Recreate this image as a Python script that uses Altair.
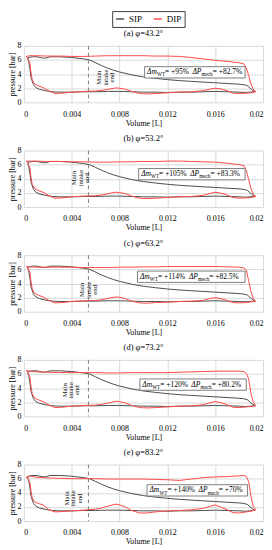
import altair as alt
import pandas as pd

FONT = "Liberation Serif"
GRAY = "#4d4d4d"
RED = "#ff4a4a"

PANELS = ["(a)", "(b)", "(c)", "(d)", "(e)"]
PHI = ["43.2", "53.2", "63.2", "73.2", "83.2"]
DM_WT = ["+95%", "+105%", "+114%", "+120%", "+140%"]
DP_MECH = ["+82.7%", "+83.3%", "+82.5%", "+80.2%", "+70%"]

X_TICKS = [0, 0.004, 0.008, 0.012, 0.016, 0.02]
Y_TICKS = [0, 2, 4, 6, 8]
INTAKE_END_V = 0.0054

# SIP loop (same in every panel)
SIP_V = [0.0003, 0.0007, 0.0011, 0.0015, 0.0018, 0.0022, 0.003, 0.004, 0.005, 0.0055,
         0.006, 0.0065, 0.007, 0.0075, 0.008, 0.009, 0.010, 0.011, 0.012, 0.013,
         0.014, 0.015, 0.016, 0.017, 0.018, 0.0184, 0.0187, 0.0189, 0.0191, 0.0193,
         0.019, 0.0185, 0.018, 0.017, 0.016, 0.015, 0.014, 0.013, 0.012, 0.011,
         0.010, 0.009, 0.008, 0.007, 0.006, 0.005, 0.004, 0.003, 0.0024, 0.0018,
         0.0013, 0.001, 0.0008, 0.0006, 0.0005, 0.0004, 0.0003]
SIP_P = [6.3, 6.45, 6.45, 6.3, 6.25, 6.45, 6.45, 6.35, 6.15, 6.0,
         5.6, 5.2, 4.85, 4.55, 4.3, 3.9, 3.6, 3.4, 3.22, 3.08,
         2.97, 2.87, 2.77, 2.67, 2.57, 2.5, 2.35, 2.05, 1.75, 1.55,
         1.45, 1.4, 1.45, 1.5, 1.55, 1.5, 1.45, 1.45, 1.4, 1.45,
         1.45, 1.5, 1.55, 1.55, 1.5, 1.5, 1.45, 1.45, 1.5, 1.65,
         1.85, 2.1, 2.5, 3.5, 4.8, 5.8, 6.3]

# DIP loops: upper branch volumes, lower branch volumes (shared grids)
DIP_TOP_V = [0.0002, 0.0005, 0.001, 0.002, 0.003, 0.004, 0.005, 0.006, 0.007, 0.008,
             0.009, 0.010, 0.011, 0.012, 0.013, 0.014, 0.015, 0.016, 0.017, 0.018,
             0.0184, 0.0186, 0.0188, 0.019, 0.0192, 0.0194]
DIP_BOT_V = [0.019, 0.0186, 0.018, 0.0175, 0.017, 0.0165, 0.016, 0.0155, 0.015, 0.014,
             0.013, 0.012, 0.011, 0.0103, 0.0097, 0.009, 0.0085, 0.008, 0.0077, 0.0072,
             0.0065, 0.006, 0.005, 0.004, 0.0032, 0.0026, 0.0021, 0.0016, 0.0012, 0.0009,
             0.0007, 0.0006, 0.0005, 0.0003, 0.0002]

DIP_A_TOP = [6.5, 6.6, 6.6, 6.55, 6.55, 6.5, 6.5, 6.55, 6.6, 6.6,
             6.6, 6.6, 6.55, 6.55, 6.5, 6.35, 6.15, 5.95, 5.8, 5.6,
             5.45, 4.9, 3.8, 2.6, 1.8, 1.5]
DIP_B_TOP = [6.5, 6.5, 6.5, 6.45, 6.45, 6.4, 6.4, 6.35, 6.35, 6.4,
             6.4, 6.45, 6.45, 6.5, 6.5, 6.45, 6.4, 6.35, 6.2, 6.0,
             5.85, 5.2, 3.9, 2.6, 1.8, 1.5]
DIP_C_TOP = [6.4, 6.35, 6.3, 6.3, 6.3, 6.3, 6.25, 6.25, 6.25, 6.3,
             6.3, 6.35, 6.35, 6.4, 6.4, 6.4, 6.4, 6.4, 6.35, 6.3,
             6.2, 5.9, 4.4, 2.8, 1.8, 1.5]
DIP_D_TOP = [6.5, 6.4, 6.3, 6.25, 6.2, 6.2, 6.2, 6.2, 6.15, 6.15,
             6.2, 6.2, 6.2, 6.2, 6.25, 6.3, 6.35, 6.4, 6.4, 6.4,
             6.35, 6.1, 5.3, 3.2, 2.0, 1.5]
DIP_E_TOP = [6.2, 6.4, 6.2, 6.1, 6.05, 6.0, 6.0, 6.0, 5.95, 5.95,
             5.95, 5.95, 5.9, 5.85, 5.75, 5.95, 6.15, 6.25, 6.3, 6.4,
             6.45, 6.35, 5.6, 3.4, 2.0, 1.6]

DIP_A_BOT = [1.35, 1.3, 1.25, 1.3, 1.65, 1.9, 2.0, 1.85, 1.65, 1.5,
             1.45, 1.35, 1.25, 1.2, 1.25, 1.55, 1.85, 2.0, 2.05, 1.9,
             1.7, 1.6, 1.55, 1.45, 1.3, 1.25, 1.6, 2.1, 2.35, 2.6,
             3.2, 4.2, 5.6, 6.3, 6.5]
DIP_B_BOT = [1.35, 1.3, 1.25, 1.35, 1.7, 1.95, 2.1, 1.9, 1.65, 1.5,
             1.45, 1.35, 1.25, 1.2, 1.25, 1.55, 1.9, 2.05, 2.1, 1.95,
             1.7, 1.6, 1.55, 1.45, 1.3, 1.25, 1.6, 2.1, 2.35, 2.6,
             3.2, 4.2, 5.6, 6.3, 6.5]
DIP_C_BOT = [1.4, 1.3, 1.25, 1.3, 1.6, 1.85, 2.0, 1.85, 1.6, 1.5,
             1.45, 1.35, 1.3, 1.2, 1.25, 1.5, 1.85, 2.05, 2.1, 1.95,
             1.7, 1.6, 1.55, 1.45, 1.3, 1.25, 1.6, 2.1, 2.35, 2.6,
             3.2, 4.2, 5.6, 6.3, 6.4]
DIP_D_BOT = [1.4, 1.35, 1.25, 1.3, 1.65, 1.95, 2.1, 1.9, 1.65, 1.5,
             1.45, 1.35, 1.25, 1.2, 1.25, 1.55, 1.9, 2.1, 2.15, 1.95,
             1.7, 1.6, 1.55, 1.45, 1.3, 1.25, 1.6, 2.1, 2.35, 2.6,
             3.2, 4.2, 5.6, 6.3, 6.5]
DIP_E_BOT = [1.4, 1.3, 1.15, 1.2, 1.6, 1.95, 2.3, 2.05, 1.8, 1.6,
             1.5, 1.45, 1.3, 1.15, 1.15, 1.5, 2.0, 2.3, 2.4, 2.2,
             1.85, 1.7, 1.55, 1.45, 1.35, 1.3, 1.6, 2.3, 2.5, 2.7,
             3.3, 4.2, 5.5, 6.1, 6.2]

DIP_TOPS = [DIP_A_TOP, DIP_B_TOP, DIP_C_TOP, DIP_D_TOP, DIP_E_TOP]
DIP_BOTS = [DIP_A_BOT, DIP_B_BOT, DIP_C_BOT, DIP_D_BOT, DIP_E_BOT]

# annotation boxes (data coords)
BOX_X0 = [0.0101, 0.0096, 0.0095, 0.0097, 0.0103]
BOX_X1 = [0.0185, 0.0185, 0.0185, 0.0186, 0.0187]
BOX_Y0 = [3.45, 3.85, 4.15, 3.7, 3.55]
BOX_Y1 = [5.05, 5.45, 5.75, 5.3, 5.15]

# "Main intake end" label centres
LABEL_X = [0.0063, 0.0042, 0.0049, 0.0034, 0.0036]
LABEL_Y = [3.5, 4.1, 3.1, 3.7, 3.2]

PLOT_W = 241
PLOT_H = 57
PX_PER_L = PLOT_W / 0.02

MAIN_FS = 7.5
SUB_FS = 5.2
REG_W = {' ': 0.25, '%': 0.833, '+': 0.564, '=': 0.564, '.': 0.25, 'W': 0.944, 'T': 0.611,
         'm': 0.778, 'e': 0.444, 'c': 0.444, 'h': 0.5, 'P': 0.556, '\u0394': 0.612}
ITA_W = {'\u0394': 0.611, 'm': 0.722, 'P': 0.611}


def text_width(s, fs, italic=False):
    tot = 0.0
    for ch in s:
        if italic and ch in ITA_W:
            tot += ITA_W[ch]
        elif ch.isdigit():
            tot += 0.5
        else:
            tot += REG_W.get(ch, 0.5)
    return tot * fs


def xenc(field):
    return alt.X(field, type="quantitative",
                 scale=alt.Scale(domain=[0, 0.02], nice=False, zero=False),
                 axis=alt.Axis(values=X_TICKS, format="~g", title="Volume [L]",
                               labelPadding=8, titlePadding=1))


def yenc(field):
    return alt.Y(field, type="quantitative",
                 scale=alt.Scale(domain=[0, 8], nice=False),
                 axis=alt.Axis(values=Y_TICKS, title="pressure [bar]",
                               labelPadding=3, titlePadding=0))


color_enc = alt.Color(
    "series:N",
    scale=alt.Scale(domain=["SIP", "DIP"], range=[GRAY, RED]),
    legend=alt.Legend(title=None, orient="none", legendX=89, legendY=-35,
                      direction="horizontal", symbolType="stroke", symbolSize=64,
                      symbolStrokeWidth=1.5, labelFont=FONT, labelFontSize=9,
                      labelColor="#000000", strokeColor="#404040", fillColor="white",
                      padding=3, columnPadding=8, labelOffset=4),
)

charts = []
for i in range(5):
    sip = pd.DataFrame({"V": SIP_V, "P": SIP_P, "series": "SIP",
                        "ord": list(range(len(SIP_V)))})
    dv = DIP_TOP_V + DIP_BOT_V
    dp = DIP_TOPS[i] + DIP_BOTS[i]
    dip = pd.DataFrame({"V": dv, "P": dp, "series": "DIP", "ord": list(range(len(dv)))})

    l_sip = alt.Chart(sip).mark_line(strokeWidth=1.0, interpolate="linear").encode(
        x=xenc("V"), y=yenc("P"), color=color_enc, order="ord:Q")
    l_dip = alt.Chart(dip).mark_line(strokeWidth=1.0, interpolate="linear").encode(
        x=xenc("V"), y=yenc("P"), color=color_enc, order="ord:Q")

    rule = alt.Chart(pd.DataFrame({"V": [INTAKE_END_V]})).mark_rule(
        strokeDash=[4, 3], color="#808080", strokeWidth=1).encode(x=xenc("V"))

    lab = alt.Chart(pd.DataFrame({"V": [LABEL_X[i]], "P": [LABEL_Y[i]],
                                  "t": ["Main\nintake\nend"]})).mark_text(
        angle=270, lineBreak="\n", align="center", baseline="middle",
        font=FONT, fontSize=6.8, lineHeight=6.5, color="#222222").encode(
        x=xenc("V"), y=yenc("P"), text="t:N")

    box = alt.Chart(pd.DataFrame({"V": [BOX_X0[i]], "V2": [BOX_X1[i]],
                                  "P": [BOX_Y0[i]], "P2": [BOX_Y1[i]]})).mark_rect(
        fill="white", stroke="#7f7f7f", strokeWidth=1).encode(
        x=xenc("V"), x2="V2", y=yenc("P"), y2="P2")

    # text pieces
    yc = (BOX_Y0[i] + BOX_Y1[i]) / 2
    pieces = [("\u0394m", "ita"), ("WT", "sub"), ("= " + DM_WT[i], "reg"),
              ("gap", "gap"), ("\u0394P", "ita"), ("mech", "sub"),
              ("= " + DP_MECH[i], "reg")]
    cum = 2.5
    rows = {"ita": [], "sub": [], "reg": []}
    for s, kind in pieces:
        if kind == "gap":
            cum += 3.5
            continue
        fs = SUB_FS if kind == "sub" else MAIN_FS
        rows[kind].append({"V": BOX_X0[i] + cum / PX_PER_L, "P": yc, "t": s})
        cum += text_width(s, fs, italic=(kind == "ita"))
    t_ita = alt.Chart(pd.DataFrame(rows["ita"])).mark_text(
        align="left", baseline="middle", font=FONT, fontSize=MAIN_FS,
        fontStyle="italic", color="#000000").encode(x=xenc("V"), y=yenc("P"), text="t:N")
    t_reg = alt.Chart(pd.DataFrame(rows["reg"])).mark_text(
        align="left", baseline="middle", font=FONT, fontSize=MAIN_FS,
        color="#000000").encode(x=xenc("V"), y=yenc("P"), text="t:N")
    t_sub = alt.Chart(pd.DataFrame(rows["sub"])).mark_text(
        align="left", baseline="middle", font=FONT, fontSize=SUB_FS, dy=2.2,
        color="#000000").encode(x=xenc("V"), y=yenc("P"), text="t:N")

    panel = alt.layer(l_sip, l_dip, rule, lab, box, t_ita, t_reg, t_sub).properties(
        width=PLOT_W, height=PLOT_H,
        title=alt.TitleParams(text=f"{PANELS[i]} \u03c6={PHI[i]}\u00b0", font=FONT,
                              fontSize=8.5, fontWeight="normal", color="#000000",
                              offset=4, anchor="middle"))
    charts.append(panel)

chart = alt.vconcat(*charts, spacing=5.5).configure_axis(
    labelFont=FONT, titleFont=FONT, labelFontSize=8, titleFontSize=8,
    labelColor="#000000", titleColor="#000000", titleFontWeight="normal",
    gridColor="#d9d9d9", gridWidth=1, domain=False, ticks=False
).configure_view(stroke="transparent").properties(padding=0)

chart.save("out.html", embed_options={"renderer": "svg", "actions": False})
